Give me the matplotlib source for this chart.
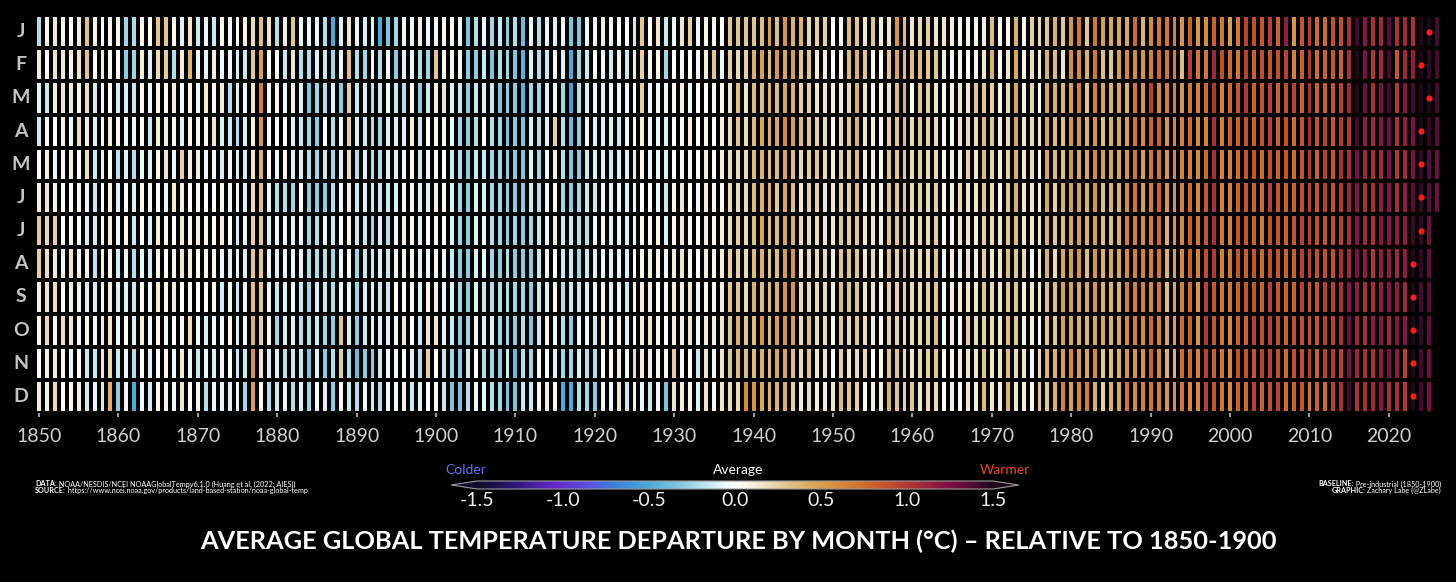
import numpy as np
import matplotlib
matplotlib.use("Agg")
import matplotlib.pyplot as plt
from matplotlib.colors import LinearSegmentedColormap
from matplotlib.transforms import blended_transform_factory

# monthly departures (deg C, relative to 1850-1900), one row per year, Jan..Dec
d1850 = [
    [-0.20, 0.12, -0.08, -0.15, 0.02, 0.10, 0.28, 0.25, 0.10, 0.05, 0.02, 0.12],
    [0.05, 0.00, -0.15, 0.05, 0.10, 0.15, 0.22, 0.18, 0.15, 0.22, 0.10, 0.08],
    [0.12, 0.15, 0.10, 0.02, -0.05, 0.08, 0.25, 0.10, 0.18, 0.05, 0.12, 0.20],
    [0.05, 0.12, 0.15, 0.10, 0.05, 0.02, 0.00, 0.05, 0.02, 0.18, 0.05, 0.00],
    [0.00, 0.05, 0.12, -0.05, 0.10, 0.02, 0.05, 0.15, 0.10, 0.15, -0.05, 0.05],
    [0.10, 0.15, 0.05, 0.18, 0.00, 0.05, 0.00, 0.05, 0.08, 0.05, 0.02, 0.10],
    [0.32, 0.30, 0.18, 0.10, 0.18, -0.05, -0.10, 0.05, -0.10, 0.05, -0.15, -0.12],
    [0.08, 0.00, -0.12, -0.10, -0.15, -0.15, -0.12, -0.18, -0.10, -0.05, -0.15, -0.05],
    [0.00, 0.12, -0.05, 0.05, 0.10, 0.00, 0.05, 0.10, 0.05, 0.12, 0.15, 0.15],
    [0.05, 0.05, 0.02, 0.10, 0.00, 0.08, 0.10, 0.05, 0.10, 0.15, 0.20, 0.40],
]
d1860 = [
    [0.05, 0.02, -0.12, 0.05, -0.18, -0.10, -0.05, -0.12, -0.10, -0.05, -0.15, -0.30],
    [-0.25, -0.30, -0.10, -0.05, -0.10, 0.00, 0.05, -0.05, -0.10, 0.00, -0.05, -0.05],
    [-0.22, -0.25, -0.15, -0.05, -0.20, -0.10, -0.15, -0.20, -0.15, -0.10, -0.20, -0.50],
    [0.05, 0.10, 0.05, 0.00, -0.05, 0.05, 0.00, -0.05, 0.05, 0.10, 0.00, -0.05],
    [0.00, -0.10, -0.05, -0.15, -0.10, 0.05, -0.10, -0.12, -0.05, -0.05, -0.10, -0.12],
    [0.30, 0.20, 0.05, 0.10, 0.05, 0.02, 0.10, 0.05, 0.12, 0.05, 0.00, 0.05],
    [0.30, 0.28, 0.02, 0.10, 0.15, -0.05, 0.05, 0.00, 0.05, -0.05, 0.05, -0.05],
    [0.05, -0.20, 0.10, 0.05, -0.05, 0.12, 0.00, 0.05, 0.10, 0.00, -0.05, -0.05],
    [-0.10, 0.10, -0.05, -0.10, 0.25, 0.10, 0.12, 0.15, 0.02, 0.05, 0.12, 0.15],
    [0.15, 0.38, 0.05, 0.05, 0.10, 0.00, 0.05, 0.10, 0.05, 0.18, -0.05, 0.00],
]
d1870 = [
    [-0.15, -0.05, -0.05, 0.05, 0.10, 0.05, 0.10, 0.02, 0.00, -0.05, -0.15, -0.05],
    [-0.05, -0.08, 0.12, 0.05, -0.05, 0.00, 0.05, 0.05, 0.00, -0.10, -0.05, -0.20],
    [-0.15, 0.10, 0.05, 0.15, -0.05, 0.00, 0.02, 0.05, 0.05, -0.05, -0.10, -0.05],
    [0.05, -0.05, 0.12, -0.10, -0.12, 0.05, 0.10, -0.05, -0.12, -0.05, -0.05, -0.08],
    [-0.05, -0.05, -0.20, -0.15, -0.05, -0.05, 0.00, -0.10, -0.05, 0.05, 0.00, -0.10],
    [0.00, -0.10, -0.10, -0.20, -0.10, -0.05, -0.12, -0.05, -0.15, -0.10, -0.15, -0.05],
    [0.05, -0.15, -0.05, -0.10, -0.12, -0.10, -0.05, -0.10, -0.05, -0.05, -0.15, -0.25],
    [0.20, 0.30, 0.15, 0.10, 0.15, 0.20, 0.25, 0.30, 0.35, 0.40, 0.55, 0.50],
    [0.35, 0.50, 0.65, 0.55, 0.40, 0.35, 0.30, 0.30, 0.30, 0.25, 0.15, 0.05],
    [0.15, 0.00, 0.05, 0.02, -0.02, -0.05, -0.10, -0.05, -0.05, 0.05, -0.10, -0.20],
]
d1880 = [
    [-0.20, 0.00, 0.05, 0.00, -0.05, -0.20, -0.05, -0.10, -0.15, -0.25, -0.10, -0.15],
    [0.10, -0.15, -0.05, 0.00, 0.05, -0.20, -0.05, -0.05, -0.10, -0.12, -0.18, -0.05],
    [0.30, 0.15, 0.10, -0.10, -0.10, -0.25, -0.10, -0.05, -0.05, -0.10, -0.15, -0.20],
    [-0.05, -0.20, -0.10, -0.15, -0.10, 0.02, -0.05, -0.08, -0.15, -0.20, -0.15, -0.10],
    [-0.05, -0.20, -0.35, -0.25, -0.20, -0.30, -0.25, -0.20, -0.25, -0.20, -0.35, -0.25],
    [-0.05, -0.10, -0.25, -0.30, -0.25, -0.30, -0.20, -0.20, -0.10, -0.15, -0.10, 0.00],
    [-0.20, -0.15, -0.20, 0.00, -0.15, -0.30, -0.05, -0.20, -0.15, -0.25, -0.30, -0.10],
    [-0.50, -0.25, -0.10, -0.20, -0.25, -0.20, -0.15, -0.25, -0.20, -0.30, -0.20, -0.30],
    [-0.10, -0.05, -0.30, -0.05, -0.10, -0.05, 0.00, -0.05, -0.05, 0.30, 0.25, 0.05],
    [0.15, 0.35, 0.25, 0.25, 0.20, 0.10, 0.05, 0.00, -0.05, -0.10, -0.20, -0.15],
]
d1890 = [
    [-0.05, -0.20, -0.15, -0.10, -0.20, -0.15, -0.15, -0.25, -0.25, -0.30, -0.40, -0.20],
    [-0.10, -0.25, -0.10, -0.15, -0.10, -0.10, -0.15, -0.15, -0.10, -0.15, -0.30, -0.05],
    [-0.10, -0.05, -0.20, -0.20, -0.20, -0.15, -0.25, -0.15, -0.10, -0.10, -0.30, -0.15],
    [-0.50, -0.20, -0.15, -0.25, -0.20, -0.15, -0.10, -0.10, -0.15, -0.10, -0.15, -0.20],
    [-0.35, -0.05, -0.05, -0.10, -0.10, -0.15, -0.20, -0.15, -0.15, -0.10, -0.05, -0.05],
    [-0.25, -0.30, -0.15, -0.10, -0.10, -0.10, -0.05, -0.05, 0.00, -0.05, -0.05, -0.05],
    [-0.05, -0.10, -0.20, -0.10, -0.05, 0.05, 0.10, 0.05, 0.00, 0.15, 0.00, 0.10],
    [-0.05, -0.05, 0.00, 0.10, 0.05, 0.05, 0.05, 0.05, 0.05, 0.00, -0.10, -0.15],
    [0.10, -0.20, -0.30, -0.15, -0.15, -0.10, -0.10, -0.10, -0.10, -0.15, -0.20, -0.10],
    [-0.05, -0.25, -0.15, 0.00, -0.05, -0.10, 0.00, -0.05, 0.05, 0.15, 0.25, 0.00],
]
d1900 = [
    [-0.05, 0.30, 0.10, 0.05, 0.05, 0.10, 0.05, 0.05, 0.10, 0.15, 0.00, 0.05],
    [0.05, 0.05, 0.15, 0.05, 0.00, 0.05, 0.02, -0.05, -0.05, -0.10, -0.15, -0.15],
    [0.05, 0.05, -0.10, -0.05, -0.15, -0.10, -0.10, -0.15, -0.10, -0.15, -0.25, -0.35],
    [-0.05, 0.05, -0.15, -0.25, -0.20, -0.25, -0.25, -0.30, -0.25, -0.30, -0.30, -0.35],
    [-0.35, -0.30, -0.30, -0.30, -0.30, -0.30, -0.30, -0.30, -0.30, -0.25, -0.15, -0.20],
    [-0.20, -0.30, -0.15, -0.20, -0.15, -0.10, -0.10, -0.10, -0.10, -0.05, 0.00, -0.05],
    [-0.05, -0.15, -0.10, 0.00, -0.15, -0.10, -0.05, -0.05, -0.15, -0.10, -0.20, -0.05],
    [-0.25, -0.35, -0.15, -0.20, -0.25, -0.25, -0.20, -0.25, -0.20, -0.10, -0.25, -0.20],
    [-0.15, -0.20, -0.35, -0.25, -0.25, -0.25, -0.25, -0.30, -0.20, -0.25, -0.30, -0.25],
    [-0.30, -0.25, -0.30, -0.35, -0.30, -0.30, -0.30, -0.20, -0.20, -0.25, -0.15, -0.35],
]
d1910 = [
    [-0.20, -0.35, -0.30, -0.30, -0.30, -0.30, -0.25, -0.30, -0.25, -0.30, -0.40, -0.35],
    [-0.40, -0.45, -0.45, -0.35, -0.35, -0.30, -0.30, -0.30, -0.25, -0.20, -0.20, -0.15],
    [-0.05, -0.10, -0.25, -0.10, -0.10, -0.15, -0.25, -0.30, -0.30, -0.35, -0.25, -0.15],
    [-0.20, -0.20, -0.25, -0.20, -0.25, -0.20, -0.15, -0.15, -0.15, -0.15, 0.05, 0.05],
    [-0.05, -0.15, -0.10, -0.10, -0.05, -0.05, -0.05, -0.05, -0.10, 0.05, 0.00, 0.10],
    [-0.10, 0.05, -0.05, 0.25, 0.10, 0.05, 0.10, 0.00, 0.05, -0.05, -0.10, 0.05],
    [-0.05, -0.10, -0.25, -0.20, -0.20, -0.25, -0.15, -0.15, -0.20, -0.20, -0.25, -0.50],
    [-0.35, -0.50, -0.55, -0.40, -0.35, -0.30, -0.15, -0.15, -0.15, -0.30, -0.25, -0.50],
    [-0.35, -0.25, -0.20, -0.30, -0.30, -0.25, -0.20, -0.25, -0.15, -0.05, -0.10, -0.20],
    [-0.05, -0.15, -0.10, 0.05, -0.15, -0.15, -0.20, -0.15, -0.10, -0.05, -0.20, -0.25],
]
d1920 = [
    [-0.05, 0.00, -0.05, -0.10, -0.10, -0.15, -0.05, -0.10, -0.05, -0.15, -0.20, -0.30],
    [0.10, -0.05, -0.10, -0.10, -0.10, -0.05, 0.05, -0.05, 0.05, 0.10, 0.00, -0.05],
    [-0.05, -0.15, -0.05, -0.10, -0.15, -0.10, -0.10, -0.10, -0.10, -0.05, 0.05, -0.05],
    [0.00, -0.05, -0.05, -0.15, -0.10, -0.05, -0.05, -0.05, -0.05, 0.05, 0.10, 0.15],
    [0.00, -0.15, -0.05, -0.05, -0.10, -0.10, -0.10, -0.10, -0.15, -0.10, -0.05, -0.15],
    [-0.15, -0.10, 0.00, 0.05, -0.10, -0.05, -0.05, 0.00, 0.05, 0.05, 0.20, 0.10],
    [0.30, 0.25, 0.25, 0.10, 0.05, 0.00, 0.05, 0.05, 0.10, 0.10, 0.10, -0.05],
    [0.00, 0.05, -0.05, -0.05, -0.05, 0.00, 0.05, 0.10, 0.10, 0.15, 0.10, -0.15],
    [0.15, 0.05, -0.05, -0.05, -0.05, -0.05, 0.05, 0.05, 0.00, 0.05, 0.05, -0.05],
    [-0.15, -0.25, -0.05, -0.10, -0.10, -0.15, -0.10, -0.05, -0.05, 0.00, 0.05, -0.35],
]
d1930 = [
    [-0.05, 0.00, 0.05, 0.00, 0.00, 0.05, 0.05, 0.10, 0.10, 0.10, 0.25, 0.15],
    [0.15, 0.05, 0.10, 0.05, 0.05, 0.15, 0.15, 0.15, 0.10, 0.10, 0.05, 0.10],
    [0.25, 0.00, -0.05, 0.10, 0.05, 0.00, 0.05, 0.05, 0.15, 0.15, 0.00, 0.05],
    [-0.05, -0.05, 0.00, 0.00, 0.00, -0.05, 0.00, 0.00, -0.05, -0.05, -0.15, -0.10],
    [0.05, 0.10, 0.00, 0.05, 0.10, 0.10, 0.10, 0.10, 0.05, 0.10, 0.15, 0.15],
    [0.05, 0.30, 0.05, 0.00, 0.00, 0.05, 0.05, 0.05, 0.05, 0.10, -0.05, 0.05],
    [0.00, -0.05, 0.05, 0.10, 0.10, 0.05, 0.10, 0.10, 0.10, 0.15, 0.15, 0.15],
    [0.30, 0.25, 0.15, 0.20, 0.20, 0.20, 0.20, 0.25, 0.30, 0.30, 0.30, 0.20],
    [0.30, 0.20, 0.35, 0.30, 0.20, 0.20, 0.25, 0.25, 0.30, 0.40, 0.35, 0.20],
    [0.30, 0.25, 0.15, 0.20, 0.20, 0.20, 0.20, 0.20, 0.20, 0.30, 0.35, 0.60],
]
d1940 = [
    [0.30, 0.40, 0.35, 0.35, 0.35, 0.35, 0.35, 0.35, 0.40, 0.35, 0.35, 0.55],
    [0.35, 0.50, 0.35, 0.45, 0.40, 0.40, 0.45, 0.40, 0.35, 0.55, 0.40, 0.45],
    [0.50, 0.35, 0.40, 0.40, 0.35, 0.40, 0.35, 0.30, 0.35, 0.35, 0.35, 0.40],
    [0.35, 0.55, 0.35, 0.45, 0.35, 0.30, 0.35, 0.35, 0.40, 0.50, 0.45, 0.40],
    [0.55, 0.45, 0.45, 0.60, 0.45, 0.45, 0.45, 0.50, 0.55, 0.55, 0.45, 0.40],
    [0.40, 0.50, 0.40, 0.50, 0.35, 0.35, 0.40, 0.55, 0.55, 0.50, 0.35, 0.25],
    [0.40, 0.30, 0.25, 0.35, 0.20, 0.15, 0.20, 0.15, 0.20, 0.20, 0.20, 0.10],
    [0.20, 0.30, 0.25, 0.30, 0.25, 0.25, 0.20, 0.20, 0.20, 0.35, 0.30, 0.20],
    [0.25, 0.10, 0.15, 0.25, 0.30, 0.25, 0.20, 0.20, 0.20, 0.20, 0.15, 0.10],
    [0.25, 0.10, 0.15, 0.20, 0.20, 0.15, 0.15, 0.20, 0.20, 0.20, 0.15, 0.10],
]
d1950 = [
    [0.00, 0.00, 0.10, 0.05, 0.10, 0.15, 0.15, 0.10, 0.10, 0.05, 0.00, 0.15],
    [0.05, 0.05, 0.10, 0.20, 0.25, 0.25, 0.30, 0.30, 0.35, 0.30, 0.25, 0.35],
    [0.35, 0.35, 0.20, 0.30, 0.25, 0.25, 0.25, 0.30, 0.30, 0.20, 0.15, 0.30],
    [0.30, 0.40, 0.40, 0.40, 0.35, 0.35, 0.30, 0.30, 0.30, 0.30, 0.20, 0.25],
    [0.15, 0.30, 0.15, 0.15, 0.10, 0.10, 0.15, 0.15, 0.15, 0.20, 0.20, 0.05],
    [0.30, 0.05, 0.05, 0.10, 0.10, 0.15, 0.15, 0.20, 0.15, 0.10, 0.00, 0.10],
    [0.10, 0.00, 0.05, 0.05, 0.05, 0.10, 0.10, 0.05, 0.05, 0.05, 0.05, 0.10],
    [0.15, 0.30, 0.15, 0.25, 0.30, 0.30, 0.30, 0.30, 0.25, 0.25, 0.30, 0.40],
    [0.55, 0.45, 0.35, 0.30, 0.30, 0.30, 0.30, 0.25, 0.25, 0.25, 0.30, 0.30],
    [0.35, 0.35, 0.40, 0.35, 0.30, 0.30, 0.30, 0.30, 0.25, 0.20, 0.20, 0.25],
]
d1960 = [
    [0.15, 0.35, 0.00, 0.20, 0.20, 0.20, 0.15, 0.20, 0.20, 0.20, 0.15, 0.30],
    [0.20, 0.35, 0.30, 0.30, 0.25, 0.25, 0.20, 0.20, 0.20, 0.20, 0.20, 0.15],
    [0.25, 0.30, 0.25, 0.25, 0.20, 0.20, 0.20, 0.20, 0.25, 0.25, 0.25, 0.20],
    [0.15, 0.30, 0.15, 0.20, 0.20, 0.25, 0.25, 0.30, 0.30, 0.35, 0.30, 0.20],
    [0.15, 0.10, 0.05, 0.05, 0.05, 0.05, 0.00, -0.05, -0.05, -0.05, 0.00, 0.00],
    [0.10, 0.05, 0.10, 0.05, 0.10, 0.10, 0.05, 0.10, 0.10, 0.10, 0.05, 0.10],
    [0.05, 0.05, 0.15, 0.15, 0.10, 0.20, 0.15, 0.10, 0.10, 0.05, 0.10, 0.05],
    [0.05, 0.00, 0.15, 0.20, 0.25, 0.15, 0.15, 0.15, 0.15, 0.25, 0.15, 0.15],
    [0.05, 0.05, 0.30, 0.20, 0.15, 0.15, 0.10, 0.10, 0.15, 0.20, 0.15, 0.10],
    [0.10, 0.15, 0.30, 0.35, 0.35, 0.30, 0.25, 0.25, 0.30, 0.25, 0.30, 0.35],
]
d1970 = [
    [0.35, 0.40, 0.25, 0.30, 0.25, 0.20, 0.20, 0.15, 0.20, 0.20, 0.15, 0.15],
    [0.05, 0.00, 0.05, 0.10, 0.10, 0.05, 0.15, 0.15, 0.15, 0.15, 0.15, 0.10],
    [0.05, 0.15, 0.20, 0.20, 0.25, 0.30, 0.30, 0.35, 0.30, 0.35, 0.35, 0.40],
    [0.40, 0.45, 0.45, 0.45, 0.40, 0.40, 0.35, 0.30, 0.30, 0.30, 0.20, 0.15],
    [0.05, 0.05, 0.10, 0.15, 0.15, 0.15, 0.15, 0.20, 0.10, 0.10, 0.15, 0.10],
    [0.25, 0.20, 0.25, 0.20, 0.20, 0.15, 0.15, 0.05, 0.15, 0.10, 0.05, 0.05],
    [0.20, 0.10, 0.00, 0.15, 0.05, 0.10, 0.15, 0.10, 0.15, 0.05, 0.20, 0.30],
    [0.30, 0.40, 0.45, 0.45, 0.45, 0.45, 0.40, 0.40, 0.35, 0.30, 0.40, 0.30],
    [0.40, 0.35, 0.40, 0.35, 0.35, 0.25, 0.30, 0.20, 0.35, 0.30, 0.40, 0.40],
    [0.30, 0.15, 0.40, 0.35, 0.35, 0.40, 0.35, 0.45, 0.50, 0.50, 0.50, 0.65],
]
d1980 = [
    [0.55, 0.60, 0.50, 0.55, 0.55, 0.50, 0.45, 0.50, 0.50, 0.45, 0.60, 0.50],
    [0.70, 0.60, 0.65, 0.55, 0.45, 0.50, 0.50, 0.55, 0.45, 0.40, 0.50, 0.60],
    [0.30, 0.40, 0.30, 0.40, 0.45, 0.40, 0.40, 0.35, 0.45, 0.40, 0.45, 0.65],
    [0.70, 0.70, 0.65, 0.55, 0.60, 0.55, 0.50, 0.55, 0.55, 0.45, 0.60, 0.40],
    [0.50, 0.35, 0.45, 0.35, 0.50, 0.35, 0.35, 0.40, 0.40, 0.45, 0.30, 0.25],
    [0.45, 0.30, 0.40, 0.40, 0.45, 0.40, 0.35, 0.45, 0.40, 0.40, 0.35, 0.40],
    [0.45, 0.50, 0.45, 0.45, 0.45, 0.40, 0.40, 0.45, 0.40, 0.45, 0.40, 0.45],
    [0.45, 0.60, 0.40, 0.50, 0.55, 0.60, 0.65, 0.60, 0.65, 0.60, 0.55, 0.70],
    [0.75, 0.60, 0.70, 0.70, 0.70, 0.70, 0.65, 0.65, 0.65, 0.65, 0.55, 0.60],
    [0.40, 0.55, 0.55, 0.60, 0.50, 0.50, 0.60, 0.65, 0.65, 0.60, 0.55, 0.65],
]
d1990 = [
    [0.60, 0.65, 0.95, 0.80, 0.70, 0.65, 0.65, 0.65, 0.60, 0.75, 0.80, 0.70],
    [0.70, 0.75, 0.60, 0.80, 0.70, 0.80, 0.75, 0.70, 0.70, 0.65, 0.60, 0.65],
    [0.70, 0.70, 0.65, 0.55, 0.55, 0.55, 0.40, 0.40, 0.35, 0.45, 0.40, 0.55],
    [0.65, 0.65, 0.65, 0.60, 0.60, 0.55, 0.55, 0.50, 0.45, 0.50, 0.40, 0.55],
    [0.55, 0.35, 0.55, 0.65, 0.65, 0.65, 0.60, 0.60, 0.65, 0.75, 0.75, 0.70],
    [0.80, 0.95, 0.70, 0.75, 0.65, 0.75, 0.80, 0.80, 0.75, 0.80, 0.75, 0.60],
    [0.55, 0.70, 0.65, 0.60, 0.60, 0.60, 0.70, 0.65, 0.55, 0.55, 0.65, 0.60],
    [0.60, 0.70, 0.75, 0.65, 0.75, 0.85, 0.85, 0.90, 0.95, 1.00, 0.95, 0.95],
    [0.80, 1.10, 1.00, 1.05, 1.05, 1.05, 1.05, 1.00, 0.85, 0.85, 0.80, 0.85],
    [0.70, 0.90, 0.65, 0.65, 0.65, 0.65, 0.70, 0.65, 0.70, 0.70, 0.70, 0.70],
]
d2000 = [
    [0.50, 0.75, 0.75, 0.80, 0.65, 0.65, 0.65, 0.70, 0.70, 0.60, 0.60, 0.60],
    [0.70, 0.70, 0.85, 0.80, 0.75, 0.80, 0.85, 0.85, 0.80, 0.80, 0.90, 0.80],
    [0.95, 0.95, 1.00, 0.85, 0.85, 0.85, 0.85, 0.80, 0.85, 0.80, 0.85, 0.75],
    [0.90, 0.80, 0.80, 0.80, 0.85, 0.80, 0.80, 0.85, 0.85, 0.95, 0.85, 0.95],
    [0.85, 0.90, 0.85, 0.85, 0.75, 0.75, 0.70, 0.75, 0.80, 0.90, 0.95, 0.80],
    [0.95, 0.85, 0.95, 0.95, 0.90, 0.95, 0.90, 0.90, 0.95, 0.95, 0.95, 0.90],
    [0.80, 0.90, 0.80, 0.80, 0.80, 0.85, 0.85, 0.85, 0.85, 0.90, 0.90, 0.95],
    [1.15, 0.95, 0.90, 0.90, 0.85, 0.80, 0.80, 0.80, 0.80, 0.80, 0.75, 0.75],
    [0.55, 0.65, 0.95, 0.75, 0.75, 0.80, 0.85, 0.80, 0.80, 0.90, 0.90, 0.80],
    [0.85, 0.80, 0.80, 0.85, 0.85, 0.90, 0.95, 0.95, 0.95, 0.90, 0.90, 0.85],
]
d2010 = [
    [0.95, 1.00, 1.05, 1.05, 1.00, 0.95, 0.95, 0.95, 0.85, 0.90, 0.95, 0.70],
    [0.75, 0.75, 0.80, 0.85, 0.80, 0.85, 0.90, 0.90, 0.85, 0.85, 0.80, 0.80],
    [0.75, 0.80, 0.80, 0.95, 0.95, 0.95, 0.85, 0.90, 0.95, 0.95, 0.95, 0.75],
    [0.90, 0.85, 0.85, 0.85, 0.85, 0.90, 0.90, 0.90, 0.95, 0.95, 1.00, 0.95],
    [0.90, 0.80, 0.95, 1.00, 1.05, 1.00, 0.95, 1.05, 1.05, 1.05, 0.95, 1.05],
    [1.05, 1.05, 1.10, 1.00, 1.05, 1.10, 1.05, 1.10, 1.20, 1.30, 1.25, 1.40],
    [1.40, 1.55, 1.48, 1.40, 1.25, 1.20, 1.20, 1.25, 1.15, 1.10, 1.10, 1.05],
    [1.20, 1.25, 1.30, 1.15, 1.10, 1.05, 1.10, 1.15, 1.05, 1.05, 1.05, 1.05],
    [1.05, 1.00, 1.05, 1.10, 1.05, 1.05, 1.05, 1.00, 1.05, 1.15, 1.05, 1.10],
    [1.10, 1.10, 1.25, 1.20, 1.10, 1.15, 1.20, 1.15, 1.15, 1.20, 1.15, 1.20],
]
d2020 = [
    [1.35, 1.40, 1.40, 1.30, 1.25, 1.20, 1.20, 1.15, 1.20, 1.10, 1.25, 1.05],
    [1.05, 0.85, 1.00, 1.05, 1.00, 1.05, 1.15, 1.10, 1.15, 1.20, 1.15, 1.05],
    [1.10, 1.10, 1.20, 1.15, 1.10, 1.15, 1.15, 1.15, 1.10, 1.20, 0.95, 1.00],
    [1.05, 1.15, 1.40, 1.25, 1.25, 1.35, 1.42, 1.50, 1.60, 1.55, 1.55, 1.55],
    [1.50, 1.60, 1.50, 1.55, 1.45, 1.45, 1.45, 1.45, 1.40, 1.45, 1.40, 1.40],
    [1.55, 1.45, 1.57, 1.45, 1.35, 1.35, 1.30, 1.32, 1.35, 1.32, 1.28, 1.25],
    [1.40, 1.40, 1.40, 1.35, 1.30, 1.30],
]

months = ['J', 'F', 'M', 'A', 'M', 'J', 'J', 'A', 'S', 'O', 'N', 'D']
first_year = 1850
decade_ticks = list(range(1850, 2021, 10))
cbar_ticks = [-1.5, -1.0, -0.5, 0.0, 0.5, 1.0, 1.5]
cbar_labels = ['-1.5', '-1.0', '-0.5', '0.0', '0.5', '1.0', '1.5']
title = 'AVERAGE GLOBAL TEMPERATURE DEPARTURE BY MONTH (\u00b0C) \u2013 RELATIVE TO 1850-1900'

rows = d1850 + d1860 + d1870 + d1880 + d1890 + d1900 + d1910 + d1920 + d1930 \
    + d1940 + d1950 + d1960 + d1970 + d1980 + d1990 + d2000 + d2010 + d2020
temps = np.full((len(rows), 12), np.nan)
for i, r in enumerate(rows):
    temps[i, :len(r)] = r
years = np.arange(first_year, first_year + len(rows))

plt.rcParams['font.family'] = ['Lato', 'DejaVu Sans']
plt.rcParams['axes.unicode_minus'] = False

cmap = LinearSegmentedColormap.from_list('labe', [
    (0.000, '#100c28'), (0.067, '#2a1670'), (0.150, '#6428c8'),
    (0.217, '#5a50e0'), (0.267, '#3a80d8'), (0.333, '#4aaad8'),
    (0.400, '#8ccce0'), (0.460, '#d4eef4'), (0.500, '#ffffff'),
    (0.540, '#f2ecd6'), (0.600, '#e2c690'), (0.650, '#d9a85c'),
    (0.700, '#d68c3c'), (0.750, '#cf6c2c'), (0.800, '#c24e2a'),
    (0.850, '#a83036'), (0.900, '#8a1444'), (0.950, '#5c0c38'),
    (1.000, '#1e0818')])

W, H = 1456, 582
fig = plt.figure(figsize=(W / 100, H / 100), dpi=100, facecolor='black')
ax = fig.add_axes([35 / W, 1 - 413 / H, 1405.5 / W, 398 / H])
ax.set_facecolor('black')

xe = np.arange(years[0] - 0.5, years[-1] + 1.5)
ye = np.arange(13)
mesh = ax.pcolormesh(xe, ye, np.ma.masked_invalid(temps.T), cmap=cmap,
                     vmin=-1.5, vmax=1.5, edgecolors='black', linewidth=1.7)
ax.set_xlim(xe[0], xe[-1])
ax.set_ylim(12, 0)

# record month markers
for m in range(12):
    ax.plot(years[np.nanargmax(temps[:, m])], m + 0.5, 'o', color='#ff1a1a',
            ms=4.5, mec='none')

for s in ax.spines.values():
    s.set_visible(False)
ax.set_yticks([])
ax.set_xticks(decade_ticks)
ax.set_xticklabels([str(y) for y in decade_ticks])
ax.tick_params(axis='x', direction='out', length=3, width=1.3, color='#b0b0b0',
               labelsize=14, labelcolor='#cfcfcf', pad=8)

tr = blended_transform_factory(fig.transFigure, ax.transData)
for i, m in enumerate(months):
    ax.text(21 / W, i + 0.5, m, transform=tr, ha='center', va='center',
            fontsize=14, fontweight='bold', color='#c4c4c4')

# colorbar: interior from -1.5 (x=477) to 1.5 (x=993), extends outside
ext = 0.05 * 516
cax = fig.add_axes([(477 - ext) / W, 1 - 489 / H, (516 + 2 * ext) / W, 8 / H])
cb = fig.colorbar(mesh, cax=cax, orientation='horizontal', extend='both',
                  extendfrac=0.05, ticks=cbar_ticks)
cb.ax.set_xticklabels(cbar_labels)
cb.outline.set_edgecolor('#9a9a9a')
cb.outline.set_linewidth(0.8)
cax.tick_params(length=0, labelsize=14, labelcolor='#f0f0f0', pad=2)

fig.text(466 / W, 1 - 470 / H, 'Colder', ha='center', va='center',
         fontsize=10, color='#6b6bff')
fig.text(738 / W, 1 - 470 / H, 'Average', ha='center', va='center',
         fontsize=10, color='white')
fig.text(1005 / W, 1 - 470 / H, 'Warmer', ha='center', va='center',
         fontsize=10, color='#e8461e')

fig.text(738 / W, 1 - 541 / H, title, ha='center', va='center',
         fontsize=18.3, fontweight='bold', color='white')

# small source / credit lines with a bold lead word
r = fig.canvas.get_renderer()
left_lines = [('DATA:', ' NOAA/NESDIS/NCEI NOAAGlobalTempv6.1.0 (Huang et al. (2022; AIES))'),
              ('SOURCE:', ' https://www.ncei.noaa.gov/products/land-based-station/noaa-global-temp')]
right_lines = [('BASELINE:', ' Pre-industrial (1850-1900)'),
               ('GRAPHIC:', ' Zachary Labe (@ZLabe)')]
for k, (b, t) in enumerate(left_lines):
    y = 1 - (484 + 6.5 * k) / H
    tb = fig.text(35 / W, y, b, ha='left', va='center', fontsize=5.2,
                  fontweight='bold', color='white')
    wb = tb.get_window_extent(renderer=r).width
    fig.text((35 + wb) / W, y, t, ha='left', va='center', fontsize=5.2, color='white')
for k, (b, t) in enumerate(right_lines):
    y = 1 - (484 + 6.5 * k) / H
    tt = fig.text(1441 / W, y, t, ha='right', va='center', fontsize=5.2, color='white')
    wt = tt.get_window_extent(renderer=r).width
    fig.text((1441 - wt) / W, y, b, ha='right', va='center', fontsize=5.2,
             fontweight='bold', color='white')

fig.savefig('out.png', dpi=100, facecolor='black')
